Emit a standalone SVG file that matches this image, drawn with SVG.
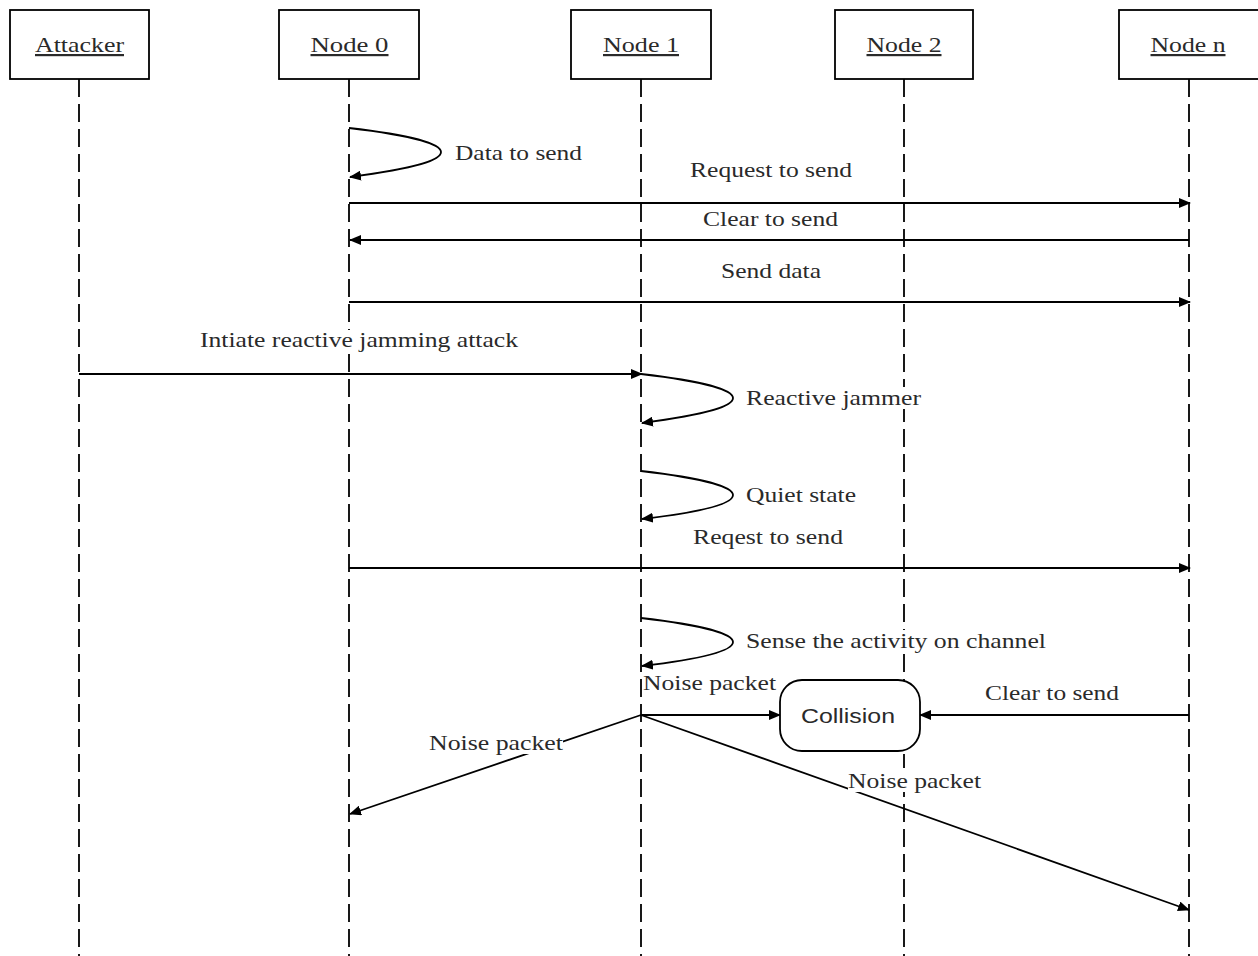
<svg xmlns="http://www.w3.org/2000/svg" width="1258" height="956" viewBox="0 0 1258 956">
<style>
.box{fill:#fff;stroke:#000;stroke-width:1.8}
.life{stroke:#000;stroke-width:1.8;stroke-dasharray:18 7;fill:none}
.msg{stroke:#000;stroke-width:1.8;fill:none}
.arr{marker-end:url(#ah)}
text{font-family:"Liberation Serif","Times New Roman",serif;font-size:22px;fill:#2a2a2a}
.hdr{text-decoration:underline;text-anchor:middle}
.sans{font-family:"Liberation Sans",Arial,sans-serif;font-size:21px}
.bg{fill:#fff}
</style>
<defs>
<marker id="ah" viewBox="0 0 12 10" refX="11" refY="5" markerWidth="12" markerHeight="10" markerUnits="userSpaceOnUse" orient="auto">
<path d="M0,0 L12,5 L0,10 Z" fill="#000"/>
</marker>
</defs>
<rect width="1258" height="956" fill="#fff"/>
<g id="lifelines">
<line class="life" x1="79" y1="79" x2="79" y2="956"/>
<line class="life" x1="349" y1="79" x2="349" y2="956"/>
<line class="life" x1="641" y1="79" x2="641" y2="956"/>
<line class="life" x1="904" y1="79" x2="904" y2="956"/>
<line class="life" x1="1189" y1="79" x2="1189" y2="956"/>
</g>
<g id="node-attacker">
<rect class="box" x="10" y="10" width="139" height="69"/>
<text class="hdr" x="79.5" y="52" textLength="89" lengthAdjust="spacingAndGlyphs">Attacker</text>
</g>
<g id="node-0">
<rect class="box" x="279" y="10" width="140" height="69"/>
<text class="hdr" x="349.5" y="52" textLength="78" lengthAdjust="spacingAndGlyphs">Node 0</text>
</g>
<g id="node-1">
<rect class="box" x="571" y="10" width="140" height="69"/>
<text class="hdr" x="641" y="52" textLength="76" lengthAdjust="spacingAndGlyphs">Node 1</text>
</g>
<g id="node-2">
<rect class="box" x="835" y="10" width="138" height="69"/>
<text class="hdr" x="904" y="52" textLength="75" lengthAdjust="spacingAndGlyphs">Node 2</text>
</g>
<g id="node-n">
<rect class="box" x="1119" y="10" width="145" height="69"/>
<text class="hdr" x="1188" y="52" textLength="75" lengthAdjust="spacingAndGlyphs">Node n</text>
</g>
<g id="connectors">
<path class="msg arr" d="M349,128 C418,136 441,145 441,152 C441,160 418,168 350,177"/>
<line class="msg arr" x1="349" y1="203" x2="1190" y2="203"/>
<line class="msg arr" x1="1189" y1="240" x2="350" y2="240"/>
<line class="msg arr" x1="349" y1="302" x2="1190" y2="302"/>
<line class="msg arr" x1="79" y1="374" x2="642" y2="374"/>
<path class="msg arr" d="M641,374 C710,382 733,391 733,398 C733,406 710,414 642,423"/>
<path class="msg arr" d="M641,471 C710,479 733,488 733,495 C733,503 710,511 642,519"/>
<line class="msg arr" x1="349" y1="568" x2="1190" y2="568"/>
<path class="msg arr" d="M641,618 C710,626 733,635 733,642 C733,650 710,658 642,666"/>
<line class="msg arr" x1="641" y1="715" x2="780" y2="715"/>
<line class="msg arr" x1="1189" y1="715" x2="920" y2="715"/>
<line class="msg arr" x1="641" y1="715" x2="350" y2="814"/>
<line class="msg arr" x1="641" y1="715" x2="1189" y2="910"/>
</g>
<g id="collision">
<rect class="box" x="780" y="680" width="140" height="71" rx="22" ry="22"/>
<text class="sans" x="848" y="723" text-anchor="middle" textLength="94" lengthAdjust="spacingAndGlyphs">Collision</text>
</g>
<g id="labels">
<text x="455" y="160" textLength="127" lengthAdjust="spacingAndGlyphs">Data to send</text>
<text x="690" y="177" textLength="162" lengthAdjust="spacingAndGlyphs">Request to send</text>
<text x="703" y="226" textLength="135" lengthAdjust="spacingAndGlyphs">Clear to send</text>
<text x="721" y="278" textLength="100" lengthAdjust="spacingAndGlyphs">Send data</text>
<rect class="bg" x="342" y="330" width="14" height="22"/>
<text x="200" y="347" textLength="318" lengthAdjust="spacingAndGlyphs">Intiate reactive jamming attack</text>
<rect class="bg" x="897" y="387" width="14" height="22"/>
<text x="746" y="405" textLength="175" lengthAdjust="spacingAndGlyphs">Reactive jammer</text>
<text x="746" y="502" textLength="110" lengthAdjust="spacingAndGlyphs">Quiet state</text>
<text x="693" y="544" textLength="150" lengthAdjust="spacingAndGlyphs">Reqest to send</text>
<rect class="bg" x="897" y="630" width="14" height="22"/>
<text x="746" y="648" textLength="300" lengthAdjust="spacingAndGlyphs">Sense the activity on channel</text>
<text x="643" y="690" textLength="133" lengthAdjust="spacingAndGlyphs">Noise packet</text>
<text x="985" y="700" textLength="134" lengthAdjust="spacingAndGlyphs">Clear to send</text>
<rect class="bg" x="429" y="730" width="134" height="24"/>
<text x="429" y="750" textLength="134" lengthAdjust="spacingAndGlyphs">Noise packet</text>
<rect class="bg" x="848" y="768" width="133" height="24"/>
<text x="848" y="788" textLength="133" lengthAdjust="spacingAndGlyphs">Noise packet</text>
</g>
</svg>
